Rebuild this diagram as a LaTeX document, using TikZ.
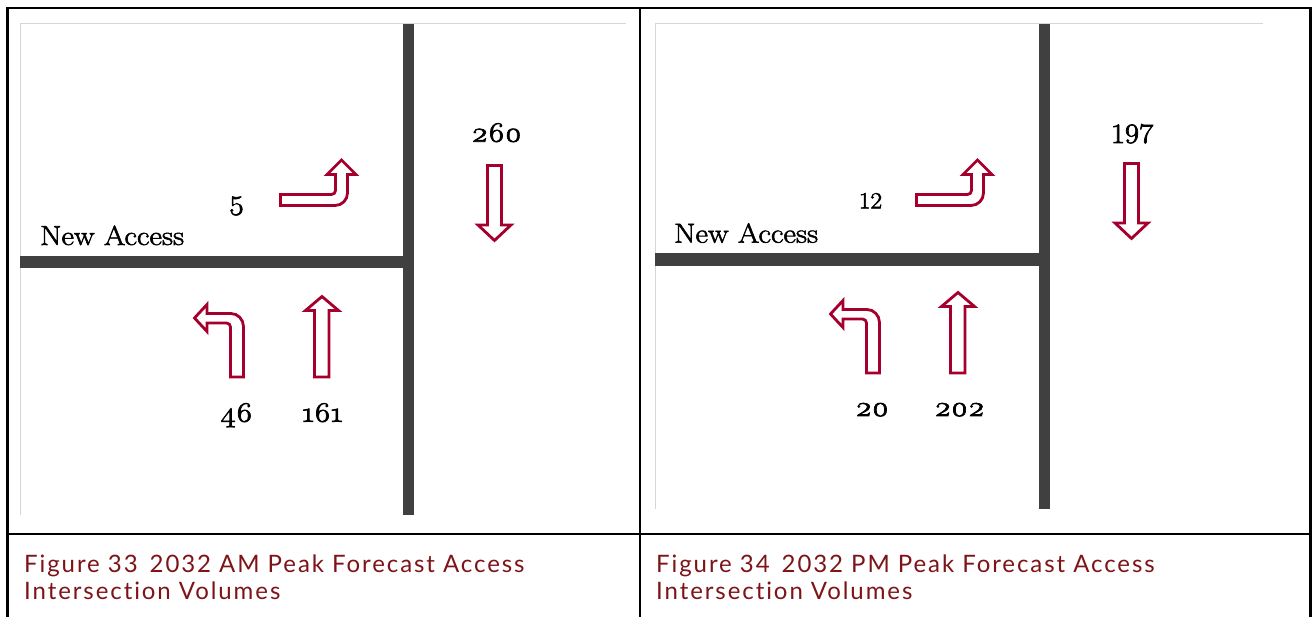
\documentclass[tikz,border=0pt]{standalone}
\usepackage{fontspec}
\newfontfamily\labelfont{Latin Modern Roman}[FakeStretch=1.12,FakeBold=2]
\newfontfamily\numfont{Latin Modern Roman}[FakeStretch=1.1,FakeBold=2.6]
\newfontfamily\osfont{Latin Modern Roman}[Numbers=OldStyle,FakeStretch=1.15,FakeBold=2.6]
\newfontfamily\capfont{Lato}[LetterSpace=8,Ligatures=NoCommon]

\definecolor{road}{HTML}{404040}
\definecolor{turnred}{HTML}{A5002D}
\definecolor{capred}{HTML}{7D1418}
\definecolor{mapedge}{HTML}{D6D6D6}

\tikzset{
  frameline/.style={line width=2.6pt, black},
  roadline/.style={line width=#1, road},
  mapline/.style={line width=1pt, mapedge},
  movearrow/.style={line width=2.8pt, turnred, fill=white, line join=miter},
  lbl/.style={inner sep=0pt, anchor=base, text=black},
  oldnum/.style={lbl, font=\osfont\fontsize{28}{28}\selectfont},
  linnum/.style={lbl, font=\numfont\fontsize{#1}{#1}\selectfont},
  street/.style={inner sep=0pt, anchor=base west, font=\labelfont\fontsize{27.5}{27.5}\selectfont},
  caption/.style={inner sep=0pt, anchor=base west, text=capred, font=\capfont\fontsize{24}{24}\selectfont},
  % turn symbols, drawn in pixel units of the left panel
  rightturn/.pic={
    \draw[movearrow] (280.5,194.5) -- (331.5,194.5)
      .. controls (333.7,194.5) and (335.5,192.7) .. (335.5,190.5)
      -- (335.5,174.5) -- (327,174.5) -- (341.5,160) -- (356,174.5) -- (347.5,174.5)
      -- (347.5,193) .. controls (347.5,199.9) and (341.9,205.5) .. (335,205.5)
      -- (280.5,205.5) -- cycle;
  },
  leftturn/.pic={
    \draw[movearrow] (194.5,318) -- (207,304.5) -- (207,313.5) -- (231,313.5)
      .. controls (237.9,313.5) and (243.5,319.6) .. (243.5,326.5)
      -- (243.5,377) -- (230.5,377) -- (230.5,327)
      .. controls (230.5,324.8) and (228.7,323) .. (226.5,323)
      -- (207,323) -- (207,331.5) -- cycle;
  },
  straightup/.pic={
    \draw[movearrow] (314.5,377) -- (314.5,310.5) -- (305.5,310.5) -- (322,296.5)
      -- (338.5,310.5) -- (329,310.5) -- (329,377) -- cycle;
  },
  straightdown/.pic={
    \draw[movearrow] (487.5,165.5) -- (501.5,165.5) -- (501.5,225) -- (511,225)
      -- (494.5,240.5) -- (478,225) -- (487.5,225) -- cycle;
  },
}

\begin{document}
\begin{tikzpicture}[x=1pt, y=-1pt]
  \useasboundingbox (0,0) rectangle (1312,617);
  \fill[white] (0,0) rectangle (1312,617);

  % ---------- AM peak panel ----------
  \draw[mapline] (20,515) -- (20,24) -- (626,24);
  \draw[roadline=11pt] (408.5,24) -- (408.5,515);
  \draw[roadline=12.5pt] (20,262.2) -- (414,262.2);

  \node[street] (amstreet) at (40,245) {New Access};
  \node[linnum=28] (amebl) at (236.5,215) {5};
  \node[oldnum] (amsbt) at (496.5,141.7) {260};
  \node[oldnum] (amnbl) at (236.5,421.7) {46};
  \node[oldnum] (amnbt) at (322.5,421.7) {161};

  \pic at (0,0) {rightturn};
  \pic at (0,0) {leftturn};
  \pic at (0,0) {straightup};
  \pic at (0,0) {straightdown};

  % ---------- PM peak panel ----------
  \draw[mapline] (655,509) -- (655,24) -- (1263,24);
  \draw[roadline=10.5pt] (1044.5,24) -- (1044.5,509);
  \draw[roadline=12.5pt] (655,259.5) -- (1049.5,259.5);

  \node[street] (pmstreet) at (674,242.7) {New Access};
  \node[linnum=23] (pmebl) at (870.5,208.3) {12};
  \node[linnum=28] (pmsbt) at (1132,143) {197};
  \node[oldnum] (pmnbl) at (872,416) {20};
  \node[oldnum] (pmnbt) at (959.5,416) {202};

  \pic at (636,0) {rightturn};
  \pic at (636,-4) {leftturn};
  \pic at (636,-4) {straightup};
  \pic at (637,-2) {straightdown};

  % ---------- table rules ----------
  \draw[frameline] (7.5,617) -- (7.5,8) -- (1310.5,8) -- (1310.5,617);
  \draw[frameline] (640,8) -- (640,617);
  \draw[frameline] (7.5,534) -- (1310.5,534);

  % ---------- captions ----------
  \node[caption] (amcapa) at (24,572) {Figure 33\hspace{0.5em}2032 AM Peak Forecast Access};
  \node[caption] (amcapb) at (24,599) {Intersection Volumes};
  \node[caption] (pmcapa) at (656,572) {Figure 34\hspace{0.5em}2032 PM Peak Forecast Access};
  \node[caption] (pmcapb) at (656,599) {Intersection Volumes};
\end{tikzpicture}
\end{document}
